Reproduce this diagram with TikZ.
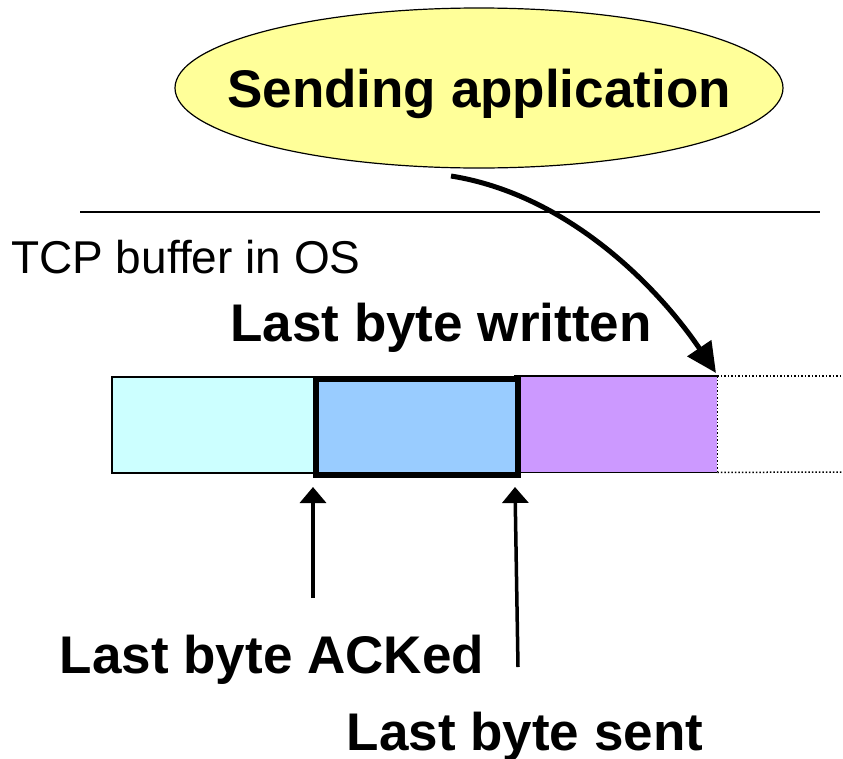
\documentclass[tikz,border=0pt]{standalone}
\usepackage{fontspec}
\setmainfont{Liberation Sans}
\usetikzlibrary{shapes.geometric,arrows.meta}
\definecolor{appyellow}{HTML}{FFFF99}
\definecolor{bufcyan}{HTML}{CCFFFF}
\definecolor{bufblue}{HTML}{99CCFF}
\definecolor{bufpurple}{HTML}{CC99FF}
\tikzset{
  bigbold/.style={font=\fontsize{53}{60}\selectfont\bfseries, inner sep=0pt},
  plaintext/.style={font=\fontsize{46}{52}\selectfont, inner sep=0pt},
  bufcell/.style={rectangle, minimum width=202pt, minimum height=96pt, inner sep=0pt, anchor=north west},
  uparrow/.style={line width=3.5pt, -{Triangle[length=16pt,width=26pt]}},
  bendarrow/.style={line width=5pt, -{Triangle[length=30pt,width=28pt]}},
}
\begin{document}
\begin{tikzpicture}[x=1pt,y=-1pt]
\useasboundingbox (0,0) rectangle (843,758);
% sending application
\node[ellipse, draw=black, line width=1.2pt, fill=appyellow, minimum width=608pt, minimum height=160pt,
      inner sep=0pt,
      label={[bigbold, text height=38pt, text depth=0pt]center:Sending application}] (app) at (479,88) {};
% OS boundary
\coordinate (sepL) at (80,212);
\coordinate (sepR) at (820,212);
\draw[line width=2pt] (sepL) -- (sepR);
\node[plaintext, anchor=base west] (tcp) at (11,273) {TCP buffer in OS};
\node[bigbold, anchor=base] (lbw) at (441,341) {Last byte written};
% buffer cells
\node[bufcell, fill=bufcyan, draw=black, line width=1.5pt] (b1) at (111,376) {};
\node[bufcell, fill=bufpurple] (b3) at (515,376) {};
\draw[line width=1.5pt] (b3.north east) -- (b3.north west) -- (b3.south west) -- (b3.south east);
\draw[line width=1.5pt, dotted] (b3.north east) -- (b3.south east);
\node[bufcell, fill=bufblue, draw=black, line width=5.5pt, minimum width=202pt] (b2) at (313,376) {};
% dotted continuation
\coordinate (dotT) at (843,376);
\coordinate (dotB) at (843,472);
\draw[line width=1.5pt, dotted] (b3.north east) -- (dotT);
\draw[line width=1.5pt, dotted] (b3.south east) -- (dotB);
% curved arrow
\coordinate (cstart) at (451,176);
\coordinate (cend) at (716,373);
\draw[bendarrow] (cstart) .. controls (570,195) and (660,290) .. (cend);
% pointer arrows
\coordinate (ackTail) at (313,598);
\coordinate (ackTip) at (313,487);
\coordinate (sentTail) at (518,667);
\coordinate (sentTip) at (515,487);
\draw[uparrow] (ackTail) -- (ackTip);
\draw[uparrow] (sentTail) -- (sentTip);
\node[bigbold, anchor=base] (lba) at (272,673) {Last byte ACKed};
\node[bigbold, anchor=base] (lbs) at (525,750) {Last byte sent};
\end{tikzpicture}
\end{document}
